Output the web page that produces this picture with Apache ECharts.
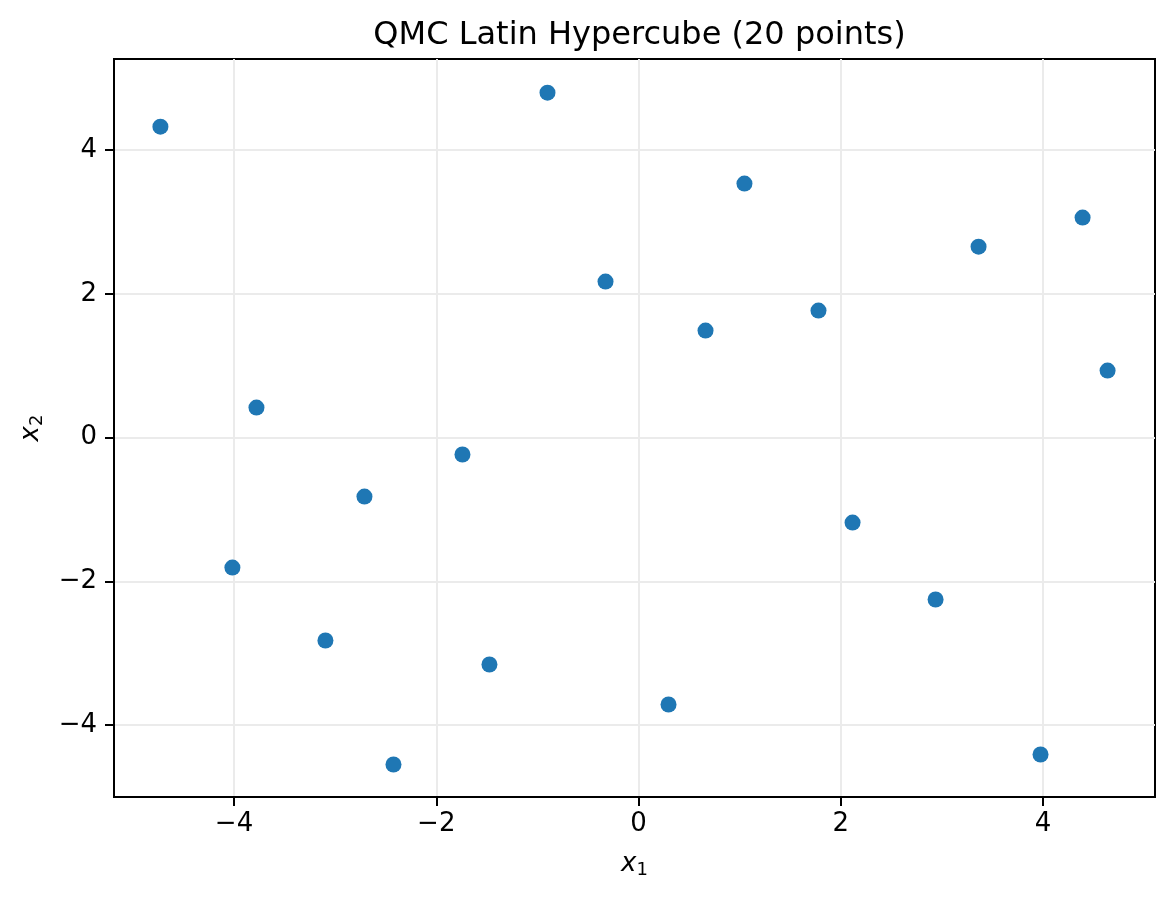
<!DOCTYPE html>
<html>
<head>
<meta charset="utf-8">
<script src="https://cdn.jsdelivr.net/npm/echarts@6/dist/echarts.min.js"></script>
<style>html,body{margin:0;padding:0;background:#fff}#c{width:1174px;height:898px}</style>
</head>
<body>
<div id="c"></div>
<script>
const titleText = 'QMC Latin Hypercube (20 points)';
const xValues = [-4.728, -0.900, 1.048, 4.392, 3.363, -0.326, 0.663, 1.780, 4.639, -3.778,
                 -1.741, -2.710, 2.117, -4.016, 2.938, -3.096, -1.474, 0.297, 3.976, -2.423];
const yValues = [4.325, 4.798, 3.533, 3.060, 2.656, 2.170, 1.488, 1.766, 0.932, 0.417,
                 -0.236, -0.821, -1.182, -1.808, -2.253, -2.823, -3.157, -3.713, -4.409, -4.548];
const xTicks = [-4, -2, 0, 2, 4];
const yTicks = [-4, -2, 0, 2, 4];

const points = xValues.map((x, i) => [x, yValues[i]]);
const fmt = v => String(v).replace('-', '\u2212');
const font = 'DejaVu Sans';
const tickFont = 26;

const chart = echarts.init(document.getElementById('c'), null, {renderer: 'canvas'});
chart.setOption({
  backgroundColor: '#ffffff',
  animation: false,
  title: {
    text: titleText, left: 634.5, top: 15, textAlign: 'center',
    textStyle: {fontFamily: font, fontSize: 32, fontWeight: 'normal', color: '#000'}
  },
  grid: {left: 114, right: 19, top: 59, bottom: 101, show: true, borderColor: '#000', borderWidth: 2, containLabel: false},
  xAxis: {
    type: 'value', min: -5.187, max: 5.108,
    name: '{i|x}{s|1}', nameLocation: 'middle', nameGap: 52,
    nameTextStyle: {rich: {
      i: {fontFamily: font, fontStyle: 'italic', fontSize: tickFont, color: '#000'},
      s: {fontFamily: font, fontSize: 18, color: '#000', padding: [12, 0, 0, 0]}
    }},
    axisLine: {show: true, onZero: false, lineStyle: {color: '#000', width: 2}},
    axisTick: {show: true, inside: false, length: 9, lineStyle: {color: '#000', width: 2}, customValues: xTicks},
    axisLabel: {customValues: xTicks, formatter: fmt, fontFamily: font, fontSize: tickFont, color: '#000', margin: 14},
    splitLine: {show: true, lineStyle: {color: '#ebebeb', width: 2}}
  },
  yAxis: {
    type: 'value', min: -5.0, max: 5.266,
    name: '{i|x}{s|2}', nameLocation: 'middle', nameGap: 68, nameRotate: 90,
    nameTextStyle: {rich: {
      i: {fontFamily: font, fontStyle: 'italic', fontSize: tickFont, color: '#000'},
      s: {fontFamily: font, fontSize: 18, color: '#000', padding: [12, 0, 0, 0]}
    }},
    axisLine: {show: true, onZero: false, lineStyle: {color: '#000', width: 2}},
    axisTick: {show: true, inside: false, length: 9, lineStyle: {color: '#000', width: 2}, customValues: yTicks},
    axisLabel: {customValues: yTicks, formatter: fmt, fontFamily: font, fontSize: tickFont, color: '#000', margin: 17},
    splitLine: {show: true, lineStyle: {color: '#ebebeb', width: 2}}
  },
  series: [{
    type: 'scatter', data: points, symbol: 'circle', symbolSize: 16,
    itemStyle: {color: '#1f77b4', opacity: 1}
  }]
});
</script>
</body>
</html>
